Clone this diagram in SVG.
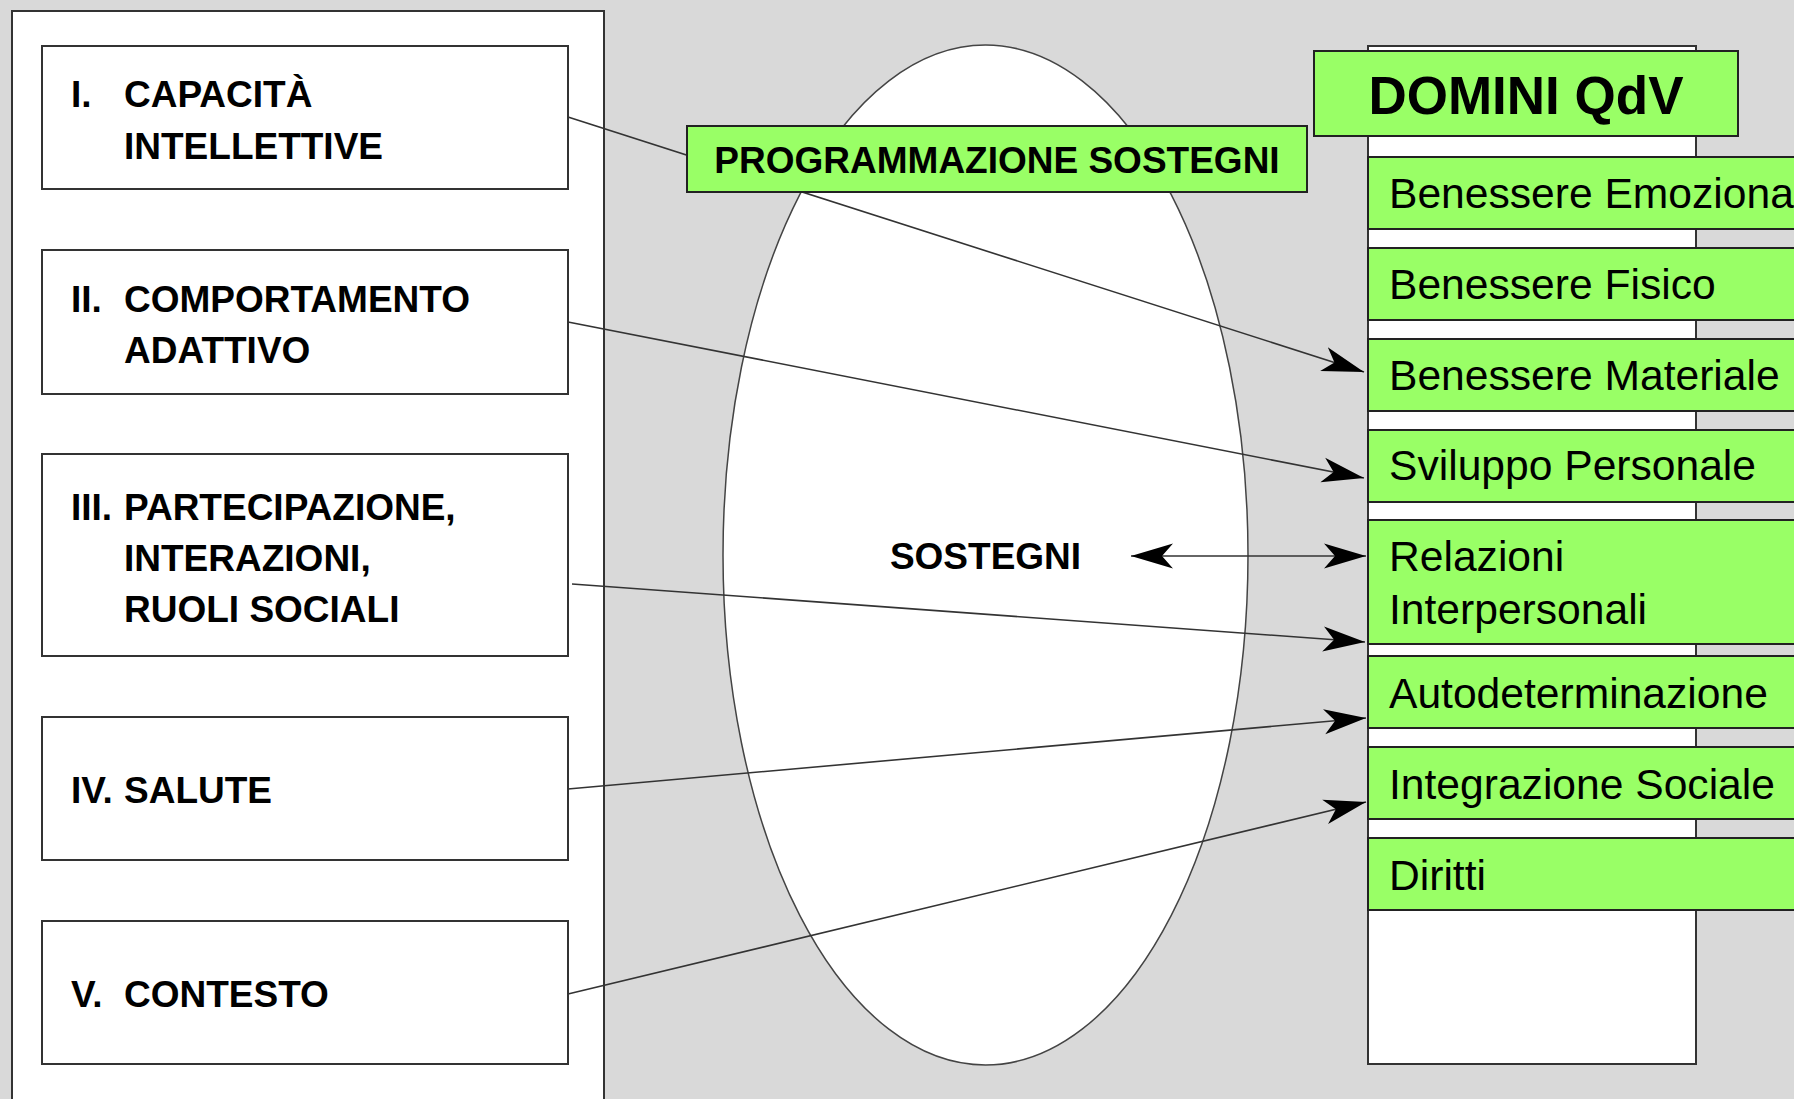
<svg xmlns="http://www.w3.org/2000/svg" width="1794" height="1099" viewBox="0 0 1794 1099">
<style>
.bg{fill:#d9d9d9}
.box{fill:#ffffff;stroke:#333333;stroke-width:2}
.green{fill:#99ff66;stroke:#222222;stroke-width:2}
.lbl{font-family:"Liberation Sans",Arial,sans-serif;font-weight:bold;font-size:37px;fill:#000}
.dom{font-family:"Liberation Sans",Arial,sans-serif;font-size:42.6px;fill:#000}
.conn{stroke:#333333;stroke-width:1.6;fill:none}
</style>
<defs>
<marker id="ah" markerUnits="userSpaceOnUse" markerWidth="44" markerHeight="28" viewBox="0 -14 44 28" refX="42" refY="0" orient="auto-start-reverse">
<path d="M0,-12.5 L42,0 L0,12.5 L11,0 Z" fill="#000"/>
</marker>
</defs>
<rect class="bg" x="0" y="0" width="1794" height="1099"/>

<g id="left-panel">
<rect class="box" x="12" y="11" width="592" height="1100"/>
</g>

<g id="box-1">
<rect class="box" x="42" y="46" width="526" height="143"/>
<text class="lbl" x="71" y="107">I.</text>
<text class="lbl" x="124" y="107">CAPACITÀ</text>
<text class="lbl" x="124" y="159">INTELLETTIVE</text>
</g>
<g id="box-2">
<rect class="box" x="42" y="250" width="526" height="144"/>
<text class="lbl" x="71" y="312">II.</text>
<text class="lbl" x="124" y="312">COMPORTAMENTO</text>
<text class="lbl" x="124" y="363">ADATTIVO</text>
</g>
<g id="box-3">
<rect class="box" x="42" y="454" width="526" height="202"/>
<text class="lbl" x="71" y="520">III.</text>
<text class="lbl" x="124" y="520">PARTECIPAZIONE,</text>
<text class="lbl" x="124" y="571">INTERAZIONI,</text>
<text class="lbl" x="124" y="622">RUOLI SOCIALI</text>
</g>
<g id="box-4">
<rect class="box" x="42" y="717" width="526" height="143"/>
<text class="lbl" x="71" y="803">IV.</text>
<text class="lbl" x="124" y="803">SALUTE</text>
</g>
<g id="box-5">
<rect class="box" x="42" y="921" width="526" height="143"/>
<text class="lbl" x="71" y="1007">V.</text>
<text class="lbl" x="124" y="1007">CONTESTO</text>
</g>

<g id="sostegni">
<ellipse cx="985.5" cy="555" rx="262.5" ry="510" fill="#ffffff" stroke="#444444" stroke-width="1.5"/>
<text class="lbl" x="985.5" y="569" text-anchor="middle">SOSTEGNI</text>
</g>

<g id="domini-column">
<rect class="box" x="1368" y="46" width="328" height="1018"/>
</g>

<g id="connectors">
<line class="conn" x1="568" y1="117" x2="1364" y2="372" marker-end="url(#ah)"/>
<line class="conn" x1="568" y1="322" x2="1364" y2="478" marker-end="url(#ah)"/>
<line class="conn" x1="572" y1="584" x2="1365" y2="642" marker-end="url(#ah)"/>
<line class="conn" x1="568" y1="789" x2="1366" y2="718" marker-end="url(#ah)"/>
<line class="conn" x1="568" y1="994" x2="1366" y2="802" marker-end="url(#ah)"/>
<line class="conn" x1="1131" y1="556" x2="1366" y2="556" marker-start="url(#ah)" marker-end="url(#ah)"/>
</g>

<g id="programmazione">
<rect class="green" x="687" y="126" width="620" height="66"/>
<text class="lbl" x="997" y="173" text-anchor="middle" font-size="36">PROGRAMMAZIONE SOSTEGNI</text>
</g>

<g id="domini-title">
<rect class="green" x="1314" y="51" width="424" height="85"/>
<text x="1526" y="114" text-anchor="middle" font-family="Liberation Sans, Arial, sans-serif" font-weight="bold" font-size="53">DOMINI QdV</text>
</g>

<g id="d-emozionale">
<rect class="green" x="1368" y="157" width="440" height="72"/>
<text class="dom" x="1389" y="208">Benessere Emozionale</text>
</g>
<g id="d-fisico">
<rect class="green" x="1368" y="248" width="440" height="72"/>
<text class="dom" x="1389" y="299">Benessere Fisico</text>
</g>
<g id="d-materiale">
<rect class="green" x="1368" y="339" width="440" height="72"/>
<text class="dom" x="1389" y="390">Benessere Materiale</text>
</g>
<g id="d-sviluppo">
<rect class="green" x="1368" y="430" width="440" height="72"/>
<text class="dom" x="1389" y="480">Sviluppo Personale</text>
</g>
<g id="d-relazioni">
<rect class="green" x="1368" y="520" width="440" height="124"/>
<text class="dom" x="1389" y="571">Relazioni</text>
<text class="dom" x="1389" y="624">Interpersonali</text>
</g>
<g id="d-autodeterminazione">
<rect class="green" x="1368" y="656" width="440" height="72"/>
<text class="dom" x="1389" y="708">Autodeterminazione</text>
</g>
<g id="d-integrazione">
<rect class="green" x="1368" y="747" width="440" height="72"/>
<text class="dom" x="1389" y="799">Integrazione Sociale</text>
</g>
<g id="d-diritti">
<rect class="green" x="1368" y="838" width="440" height="72"/>
<text class="dom" x="1389" y="890">Diritti</text>
</g>
</svg>
